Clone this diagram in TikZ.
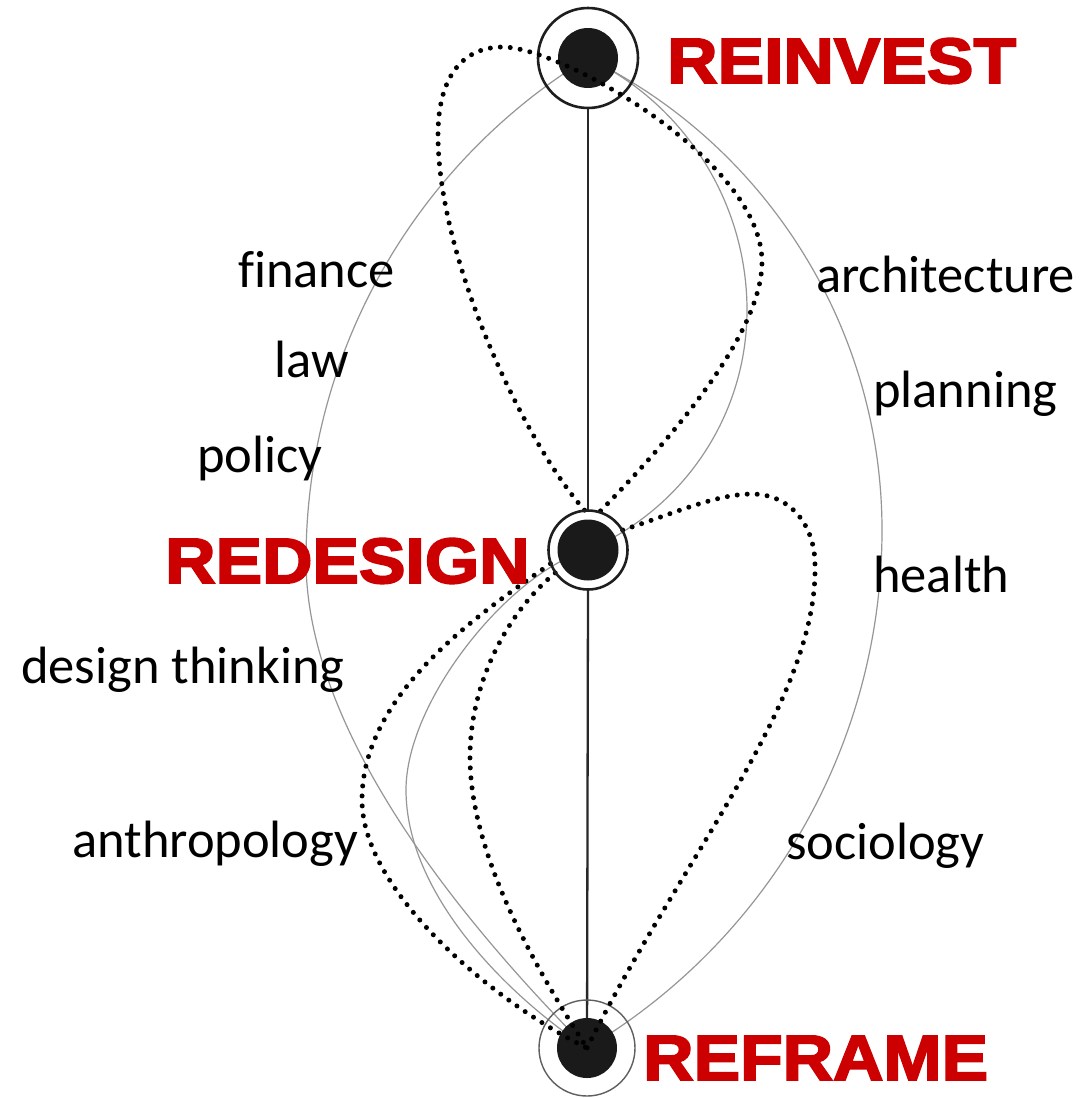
\documentclass[tikz,border=0pt]{standalone}
\usepackage{fontspec}
\setmainfont[Ligatures=NoCommon]{Carlito}
\newfontfamily\redfont[FakeStretch=1.09,BoldFeatures={FakeBold=3}]{Liberation Sans}
\definecolor{redlab}{RGB}{204,0,0}
\definecolor{diskc}{RGB}{26,26,26}
\definecolor{thinc}{RGB}{150,150,150}
\definecolor{ringc}{RGB}{30,30,30}
\definecolor{ringl}{RGB}{95,95,95}
\definecolor{spinec}{RGB}{40,40,40}
\tikzset{
  lab/.style={anchor=base west, inner sep=0pt, font=\fontsize{52.5}{60}\selectfont, text=black},
  phase/.style={anchor=base west, inner sep=0pt, font=\redfont\bfseries\fontsize{64}{70}\selectfont, text=redlab},
  hub/.style={circle, inner sep=0pt, outer sep=0pt},
  thinline/.style={draw=thinc, line width=1.2pt},
  dotline/.style={draw=black, line width=5pt, line cap=round, dash pattern=on 0pt off 10pt},
  spine/.style={draw=spinec, line width=2.3pt},
  ringdark/.style={draw=ringc, line width=2.6pt},
  ringlight/.style={draw=ringl, line width=1.4pt},
  diskfill/.style={fill=diskc},
}
\begin{document}
\begin{tikzpicture}[x=1pt,y=-1pt]
\useasboundingbox[fill=white] (0,0) rectangle (1085,1098);
\node[hub, minimum size=100pt] (rinv) at (588,58) {};
\node[hub, minimum size=80pt] (rdes) at (588,550) {};
\node[hub, minimum size=96pt] (rfra) at (587,1048) {};

% thin grey connectors
\draw[thinline] (rinv.center) .. controls (413,165) and (306,355) .. (306,560) .. controls (306,720) and (440,900) .. (rfra.center);
\draw[thinline] (rinv.center) .. controls (768,146) and (882,330) .. (882,530) .. controls (882,743) and (770,939) .. (rfra.center);
\draw[thinline] (rinv.center) .. controls (685,104) and (747,203) .. (747,310) .. controls (747,415) and (684,509) .. (rdes.center);
\draw[thinline] (rdes.center) .. controls (510,572) and (406,700) .. (406,790) .. controls (406,890) and (500,990) .. (rfra.center);

% spine
\draw[spine] (rinv.south) -- (rdes.north);
\draw[spine] (rdes.south) -- (rfra.center);

% top and bottom hubs
\fill[diskfill] (rinv.center) circle[radius=30pt];
\draw[ringdark] (rinv.center) circle[radius=50pt];
\fill[diskfill] (rfra.center) circle[radius=30pt];
\draw[ringlight] (rfra.center) circle[radius=48pt];

% dotted connectors
\draw[dotline] (rdes.95) .. controls (525,443) and (438,260) .. (438,135) .. controls (438,80) and (460,47) .. (503,47) .. controls (560,47) and (762,160) .. (762,262) .. controls (762,330) and (680,430) .. (rdes.73);
\draw[dotline] (rdes.30) .. controls (670,515) and (715,494) .. (752,494) .. controls (790,494) and (815,525) .. (815,565) .. controls (818,700) and (680,860) .. (rfra.center);
\draw[dotline] (rdes.200) .. controls (486,610) and (362,690) .. (362,800) .. controls (362,890) and (490,1000) .. (rfra.center);
\draw[dotline] (rdes.215) .. controls (510,610) and (470,680) .. (470,757) .. controls (470,850) and (530,960) .. (rfra.center);

% middle hub
\fill[diskfill] (rdes.center) circle[radius=30.5pt];
\draw[ringdark] (rdes.center) circle[radius=39.5pt];

% labels
\node[phase] (tinv) at (667,83) {REINVEST};
\node[phase] (tdes) at (165,583) {REDESIGN};
\node[phase] (tfra) at (643,1080) {REFRAME};
\node[lab] (lfin) at (238,287) {finance};
\node[lab] (llaw) at (274,377) {law};
\node[lab] (lpol) at (197,472) {policy};
\node[lab] (ldes) at (21,683) {design thinking};
\node[lab] (lant) at (72,857) {anthropology};
\node[lab] (larc) at (816,292) {architecture};
\node[lab] (lpla) at (873,407) {planning};
\node[lab] (lhea) at (873,592) {health};
\node[lab] (lsoc) at (786,859) {sociology};
\end{tikzpicture}
\end{document}
